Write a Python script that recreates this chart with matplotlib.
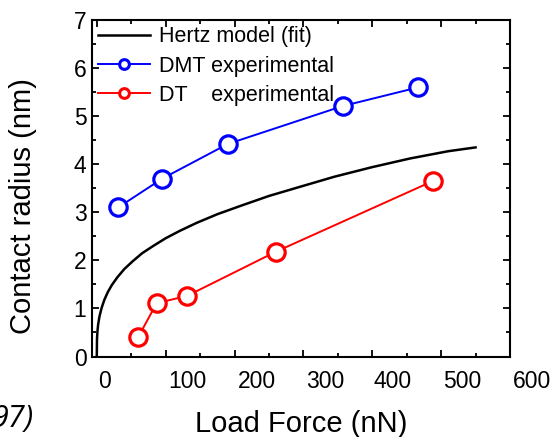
import matplotlib
matplotlib.use("Agg")
import matplotlib.pyplot as plt
from matplotlib.transforms import ScaledTranslation

plt.rcParams['font.family'] = ['Liberation Sans', 'DejaVu Sans']

# Hertz model (fit)
hertz_force = [0, 0.3, 1, 2, 4, 7, 11, 16, 22, 30, 40, 52, 66, 82, 100, 120,
               145, 175, 210, 250, 295, 345, 400, 455, 510, 550]
hertz_radius = [0, 0.36, 0.53, 0.67, 0.84, 1.01, 1.18, 1.34, 1.49, 1.65,
                1.82, 1.98, 2.15, 2.30, 2.46, 2.61, 2.78, 2.96, 3.14, 3.34,
                3.53, 3.74, 3.94, 4.12, 4.27, 4.35]

# experimental points
dmt_force = [31, 95, 190, 357, 467]
dmt_radius = [3.10, 3.70, 4.42, 5.21, 5.60]
dt_force = [60, 87, 131, 260, 488]
dt_radius = [0.40, 1.11, 1.26, 2.18, 3.65]

x_ticks = [0, 100, 200, 300, 400, 500, 600]
y_ticks = [0, 1, 2, 3, 4, 5, 6, 7]
# the x tick labels sit to the right of their ticks in the original (px)
x_label_shift = [8, 22, 22, 22, 20, 21, 22]

fig = plt.figure(figsize=(5.54, 4.37), dpi=100)
ax = fig.add_axes([0.166, 0.1842, 0.7546, 0.770])

ax.plot(hertz_force, hertz_radius, color='black', lw=1.8,
        label='Hertz model (fit)')
ax.plot(dmt_force, dmt_radius, color='blue', lw=1.4, marker='o', ms=12.5,
        mfc='white', mec='blue', mew=2.3, label='DMT experimental')
ax.plot(dt_force, dt_radius, color='red', lw=1.4, marker='o', ms=12.5,
        mfc='white', mec='red', mew=2.3, label='DT    experimental')

ax.set_xlim(-7, 600)
ax.set_ylim(0, 7)
ax.set_xticks(x_ticks)
ax.set_yticks(y_ticks)
ax.set_xticks(range(50, 600, 100), minor=True)
ax.set_yticks([0.5 + i for i in range(7)], minor=True)

for sp in ax.spines.values():
    sp.set_linewidth(1.5)

ax.tick_params(which='both', direction='in', top=True, right=True, width=1.3)
ax.tick_params(which='major', length=5)
ax.tick_params(which='minor', length=3)
ax.tick_params(axis='x', labelsize=16.5, pad=10, colors='black')
ax.tick_params(axis='y', labelsize=16.5, pad=4)

for lab, dx in zip(ax.get_xticklabels(), x_label_shift):
    lab.set_transform(lab.get_transform() +
                      ScaledTranslation(dx / 100, 0, fig.dpi_scale_trans))

ax.set_xlabel('Load Force (nN)', fontsize=21)
ax.set_ylabel('Contact radius (nm)', fontsize=21)
ax.xaxis.set_label_coords(0.5, -0.16)
ax.yaxis.set_label_coords(-0.132, 0.446)

leg = ax.legend(loc='upper left', frameon=False, fontsize=15.5,
                handlelength=2.4, handletextpad=0.4, labelspacing=0.38,
                borderaxespad=0.1, borderpad=0.2)
for h in leg.legend_handles:
    h.set_markersize(7)
    h.set_markeredgewidth(2.2)

fig.text(34 / 554, 1 - 427 / 437, '97)', ha='right', va='baseline',
         fontsize=22, style='italic', family='Open Sans')

fig.savefig('out.png', dpi=100)
